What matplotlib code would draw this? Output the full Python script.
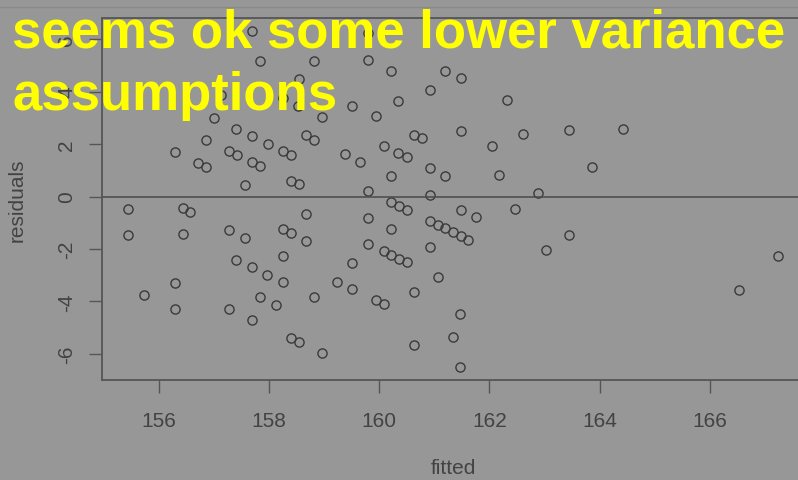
"""Residuals vs fitted scatter, R-style, on a grey screenshot background."""

import matplotlib
matplotlib.use("Agg")
import matplotlib.pyplot as plt
from matplotlib.lines import Line2D


fitted = [
    157.70, 157.83, 158.81, 159.79, 159.79, 160.22, 158.55, 157.13, 158.26, 158.52,
    159.51, 160.34, 158.96, 159.94, 157.00, 157.41, 157.70, 158.67, 158.81, 156.86,
    157.98, 156.30, 157.27, 157.42, 158.26, 158.40, 159.38, 159.65, 160.08, 160.34,
    156.71, 156.86, 157.70, 157.84, 158.40, 158.55, 157.56, 160.22, 159.80, 161.20,
    161.48, 160.92, 162.32, 160.63, 160.78, 161.48, 162.61, 163.44, 164.43, 162.04,
    160.50, 160.92, 161.20, 162.18, 163.86, 160.92, 162.88,
    155.45, 155.45, 156.44, 156.57, 156.44, 155.73, 156.30, 156.30, 157.27, 157.56,
    157.41, 157.70, 157.97, 157.83, 158.12, 157.27, 157.70, 158.26, 158.40, 158.26,
    158.26, 158.67, 158.67, 158.40, 158.54, 158.82, 158.96, 159.24, 159.51, 159.51,
    159.80, 159.80, 159.94, 160.08, 160.08, 160.22, 160.36, 160.50, 160.22, 160.36,
    160.50, 160.22, 160.64, 160.64, 160.92, 161.06, 161.20, 161.34, 161.48, 161.62,
    160.92, 161.06, 161.34, 161.47, 161.47, 161.48, 161.76, 162.46, 163.45, 163.02,
    167.23, 166.53,
]
residuals = [
    6.31, 5.17, 5.18, 5.21, 6.24, 4.78, 4.47, 3.89, 3.76, 3.47,
    3.47, 3.63, 3.05, 3.06, 3.01, 2.58, 2.31, 2.34, 2.17, 2.14,
    2.02, 1.70, 1.72, 1.58, 1.74, 1.60, 1.62, 1.33, 1.93, 1.65,
    1.29, 1.14, 1.30, 1.16, 0.60, 0.48, 0.45, 0.77, 0.20, 4.79,
    4.51, 4.08, 3.67, 2.35, 2.22, 2.50, 2.39, 2.54, 2.56, 1.94,
    1.50, 1.08, 0.78, 0.81, 1.13, 0.07, 0.12,
    -0.47, -1.46, -0.44, -0.59, -1.43, -3.75, -3.30, -4.29, -1.28, -1.57,
    -2.42, -2.70, -3.00, -3.85, -4.14, -4.28, -4.71, -1.25, -1.41, -2.27,
    -3.28, -0.68, -1.70, -5.41, -5.55, -3.84, -5.96, -3.25, -2.54, -3.54,
    -0.82, -1.81, -3.95, -4.10, -2.09, -2.25, -2.37, -2.50, -0.22, -0.37,
    -0.50, -1.23, -3.64, -5.66, -0.92, -1.08, -1.22, -1.36, -1.51, -1.65,
    -1.93, -3.07, -5.35, -4.50, -6.51, -0.50, -0.78, -0.49, -1.46, -2.04,
    -2.26, -3.56,
]
x_ticks = [156, 158, 160, 162, 164, 166]
y_ticks = [-6, -4, -2, 0, 2, 4, 6]
caption = ["seems ok some lower variance", "assumptions"]

BG = "#979797"
INK = "#434343"
W, H = 798, 481


def main() -> None:
    plt.rcParams["font.family"] = ["Liberation Sans", "DejaVu Sans"]
    plt.rcParams["axes.unicode_minus"] = False

    fig = plt.figure(figsize=(W / 100, H / 100), dpi=100, facecolor=BG)
    # plot box in pixels: left 102, right ~804 (cropped), top 19, bottom 381
    ax = fig.add_axes([102 / W, 1 - 381 / H, 702 / W, 362 / H], facecolor=BG)

    ax.plot(fitted, residuals, ls="none", marker="o", ms=6.6, mfc="none",
            mec="#3a3a3a", mew=1.0)
    ax.axhline(0, color="#4a4a4a", lw=1.1)

    ax.set_xlim(154.97, 167.71)
    ax.set_ylim(-7.0, 6.81)
    ax.set_xticks(x_ticks)
    ax.set_yticks(y_ticks)
    ax.set_yticklabels([str(v) for v in y_ticks], rotation=90, va="center")
    ax.tick_params(colors="#555555", labelcolor=INK, labelsize=15, length=9.5,
                   width=1.0)
    ax.tick_params(axis="x", pad=13)
    ax.tick_params(axis="y", pad=9)
    for spine in ax.spines.values():
        spine.set_color("#555555")
        spine.set_linewidth(1.3)

    ax.set_xlabel("fitted", fontsize=15, color=INK, labelpad=20)
    ax.set_ylabel("residuals", fontsize=15, color=INK, labelpad=22)

    # thin line near the top edge of the screenshot
    fig.add_artist(Line2D([0, 1], [1 - 7.5 / H, 1 - 7.5 / H], transform=fig.transFigure,
                          color="#8a8a8a", lw=1.0))

    for text, y_px in zip(caption, (47, 110)):
        fig.text(12 / W, 1 - y_px / H, text, color="#ffff00", fontsize=38,
                 fontweight="bold", va="baseline", ha="left")

    fig.savefig("out.png", dpi=100, facecolor=BG)


if __name__ == "__main__":
    main()
